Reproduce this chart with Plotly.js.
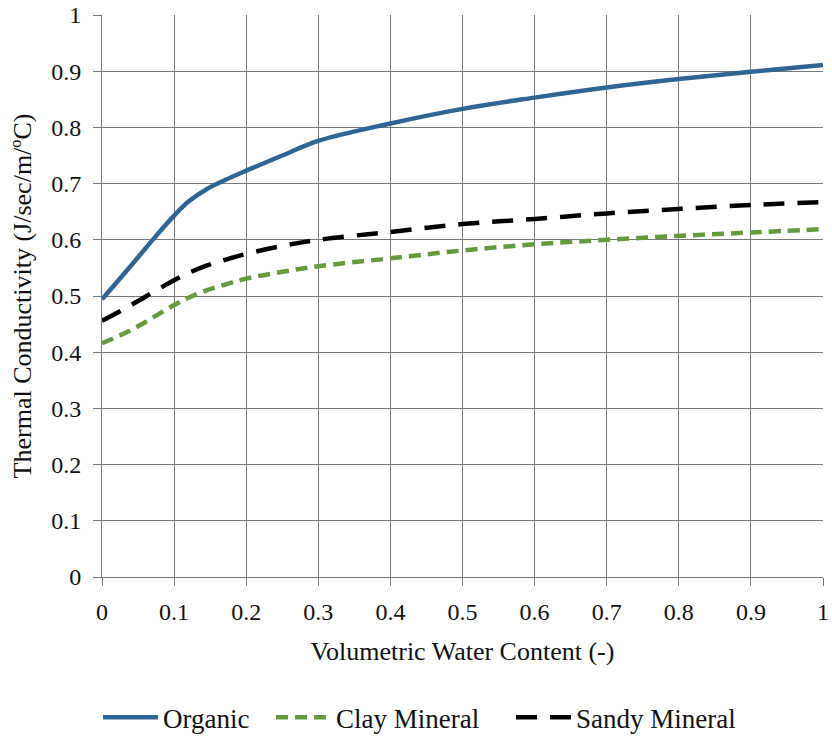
<!DOCTYPE html>
<html>
<head>
<meta charset="utf-8">
<script src="https://cdn.plot.ly/plotly-3.0.1.min.js"></script>
<style>html,body{margin:0;padding:0;background:#fff;}#chart{width:832px;height:736px;}</style>
</head>
<body>
<div id="chart"></div>
<script>
const waterContent = [0, 0.025, 0.05, 0.075, 0.1, 0.12, 0.145, 0.17, 0.2, 0.25, 0.3, 0.4, 0.5, 0.6, 0.7, 0.8, 0.9, 1.0];
const organic      = [0.494, 0.531, 0.569, 0.607, 0.643, 0.668, 0.690, 0.706, 0.723, 0.750, 0.776, 0.807, 0.833, 0.853, 0.871, 0.886, 0.899, 0.911];
const clayMineral  = [0.416, 0.430, 0.446, 0.465, 0.484, 0.497, 0.510, 0.520, 0.531, 0.543, 0.553, 0.567, 0.581, 0.592, 0.600, 0.607, 0.613, 0.619];
const sandyMineral = [0.456, 0.473, 0.491, 0.510, 0.528, 0.541, 0.554, 0.564, 0.575, 0.589, 0.600, 0.614, 0.628, 0.637, 0.647, 0.655, 0.662, 0.667];
const seriesNames  = ["Organic", "Clay Mineral", "Sandy Mineral"];
const xTicks = [0, 0.1, 0.2, 0.3, 0.4, 0.5, 0.6, 0.7, 0.8, 0.9, 1];
const xTickText = ["0", "0.1", "0.2", "0.3", "0.4", "0.5", "0.6", "0.7", "0.8", "0.9", "1"];
const yTicks = [0, 0.1, 0.2, 0.3, 0.4, 0.5, 0.6, 0.7, 0.8, 0.9, 1];
const yTickText = ["0", "0.1", "0.2", "0.3", "0.4", "0.5", "0.6", "0.7", "0.8", "0.9", "1"];

const font = "Liberation Serif";
const traces = [
  {x: waterContent, y: organic, name: seriesNames[0], mode: "lines", legend: "legend",
   line: {color: "#2e6593", width: 4.5, shape: "spline", smoothing: 1}},
  {x: waterContent, y: clayMineral, name: seriesNames[1], mode: "lines", legend: "legend2",
   line: {color: "#679a3e", width: 4.5, dash: "12px,7px", shape: "spline", smoothing: 1}},
  {x: waterContent, y: sandyMineral, name: seriesNames[2], mode: "lines", legend: "legend3",
   line: {color: "#000000", width: 4.5, dash: "21px,13px", shape: "spline", smoothing: 1}}
];
function leg(xpos) {
  return {orientation: "h", x: xpos, xanchor: "left", yref: "container", y: 0.025, yanchor: "middle",
          bgcolor: "rgba(0,0,0,0)", font: {family: font, size: 27, color: "#111"}, itemwidth: 55};
}
const layout = {
  width: 832, height: 736,
  margin: {l: 102, r: 9, t: 15, b: 159},
  paper_bgcolor: "#fff", plot_bgcolor: "#fff",
  font: {family: font, size: 24, color: "#111"},
  showlegend: true,
  legend: leg(-0.0055),
  legend2: leg(0.2344),
  legend3: leg(0.5673),
  xaxis: {range: [0, 1], tickvals: xTicks, ticktext: xTickText,
          showgrid: true, gridcolor: "#777777", gridwidth: 1,
          showline: true, linecolor: "#777777", linewidth: 1,
          ticks: "outside", ticklen: 8, tickcolor: "#777777", ticklabelstandoff: 5,
          zeroline: false, tickfont: {family: font, size: 24},
          title: {text: "Volumetric Water Content (-)", font: {family: font, size: 26}, standoff: 18}},
  yaxis: {range: [0, 1], tickvals: yTicks, ticktext: yTickText,
          showgrid: true, gridcolor: "#777777", gridwidth: 1,
          showline: true, linecolor: "#777777", linewidth: 1,
          ticks: "outside", ticklen: 8, tickcolor: "#777777", ticklabelstandoff: 7,
          zeroline: false, tickfont: {family: font, size: 24},
          title: {text: "Thermal Conductivity (J/sec/m/ºC)", font: {family: font, size: 26}, standoff: 12}}
};
Plotly.newPlot("chart", traces, layout, {displayModeBar: false, staticPlot: true});
</script>
</body>
</html>
